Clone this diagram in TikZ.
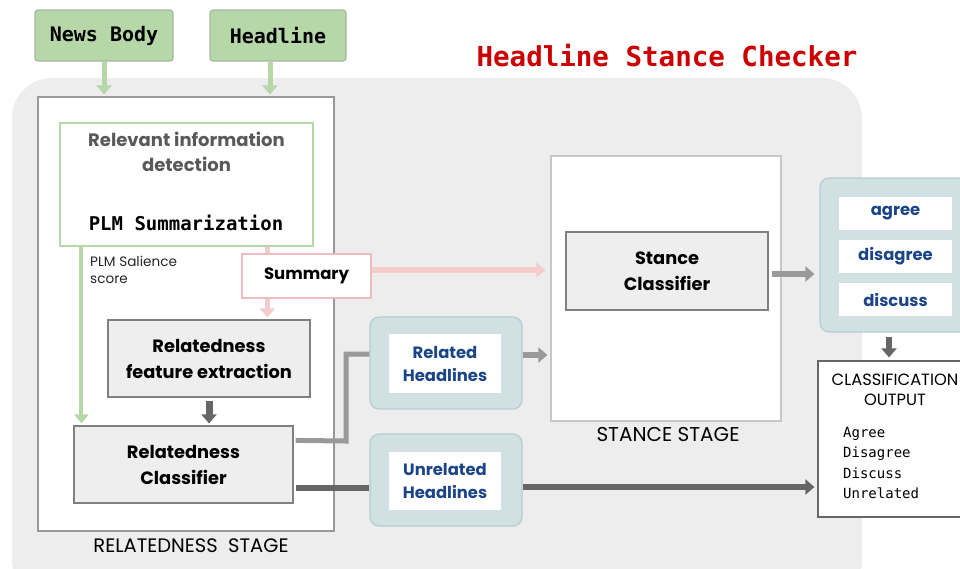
\documentclass[tikz,border=0pt]{standalone}
\usepackage{fontspec}
\setmainfont{Poppins}
\setsansfont{Poppins}
\setmonofont{DejaVu Sans Mono}
\usetikzlibrary{arrows.meta,calc}

\definecolor{bggrey}{HTML}{EDEDED}
\definecolor{leaf}{HTML}{B6D7A8}
\definecolor{leafedge}{HTML}{A6B8A0}
\definecolor{blush}{HTML}{F4CCCC}
\definecolor{blushedge}{HTML}{EBBDBD}
\definecolor{boxgrey}{HTML}{EEEEEE}
\definecolor{edgegrey}{HTML}{808080}
\definecolor{darkline}{HTML}{666666}
\definecolor{midline}{HTML}{999999}
\definecolor{ice}{HTML}{D0E0E3}
\definecolor{iceedge}{HTML}{B4CDD2}
\definecolor{navy}{HTML}{1C4587}
\definecolor{titlered}{HTML}{CC0000}
\definecolor{softtext}{HTML}{595959}

\tikzset{
  inputbox/.style={draw=leafedge, line width=1.2pt, fill=leaf, rounded corners=3pt,
    font=\fontsize{20}{24}\selectfont\ttfamily\bfseries, inner sep=0pt},
  stagebox/.style={draw=#1, line width=1.2pt, fill=white, inner sep=0pt},
  procbox/.style={draw=edgegrey, line width=1.2pt, fill=boxgrey, align=center,
    font=\fontsize{17.8}{26}\selectfont\bfseries, inner sep=0pt},
  groupbox/.style={draw=iceedge, line width=1.2pt, fill=ice, rounded corners=9pt, inner sep=0pt},
  labelbox/.style={fill=white, align=center, text=navy,
    font=\fontsize{16.4}{23}\selectfont\bfseries, inner sep=0pt},
  flow/.style={line width=#1, -{Triangle[length=9pt,width=15pt]}},
  flow/.default=5pt,
  bar/.style={line width=#1},
  bar/.default=5pt,
}

\begin{document}
\begin{tikzpicture}[x=1pt,y=-1pt]
\useasboundingbox (0,0) rectangle (960,568);
\clip (0,0) rectangle (960,568);

% overall checker panel
\fill[bggrey, rounded corners=40pt] (12,78) rectangle (862,600);

\node[font=\fontsize{27.5}{30}\selectfont\ttfamily\bfseries, text=titlered, anchor=base]
  (title) at (667,66) {Headline Stance Checker};

% inputs
\node[inputbox, minimum width=138pt, minimum height=51pt] (news) at (104,35.5) {News Body};
\node[inputbox, minimum width=136pt, minimum height=51pt] (head) at (278,35.5) {Headline};

% relatedness stage
\node[stagebox=edgegrey!80, minimum width=296pt, minimum height=434pt] (relstage) at (186,314) {};
\node[font=\fontsize{19.5}{22}\selectfont] (reltag) at (191,546) {RELATEDNESS\ \ STAGE};

\draw[leaf, flow] (news.south) -- ($(news.south |- relstage.north)+(0,-2)$);
\draw[leaf, flow] (head.south -| 270,0) -- ($(270,0 |- relstage.north)+(0,-2)$);

\node[stagebox=leaf, minimum width=253pt, minimum height=123pt] (relinfo) at (186.5,184.5) {};
\node[text=softtext, align=center, font=\fontsize{18}{25}\selectfont\bfseries]
  (relinfotxt) at (186.5,152) {Relevant information\\detection};
\node[font=\fontsize{19}{22}\selectfont\ttfamily\bfseries, anchor=base]
  (plm) at (186,230) {PLM Summarization};

\node[draw=blushedge, line width=1.2pt, fill=white, minimum width=129pt, minimum height=44pt,
  font=\fontsize{16.5}{20}\selectfont\bfseries, inner sep=0pt] (summary) at (306.5,276) {Summary};

\node[procbox, minimum width=202pt, minimum height=77pt] (feat) at (209,358.5)
  {Relatedness\\feature extraction};
\node[procbox, minimum width=219pt, minimum height=77pt] (relcls) at (183.5,464.5)
  {Relatedness\\Classifier};

% salience score path
\coordinate (salA) at ($(relinfo.south west)+(22,0)$);
\draw[leaf, line width=4pt, -{Triangle[length=9pt,width=14pt]}]
  (salA) -- ($(salA |- relcls.north)+(0,-2)$);
\node[font=\fontsize{13.6}{17}\selectfont, align=left, anchor=north west, inner sep=0pt,
  text=black!85] (saltxt) at (90,256) {PLM Salience\\score};

% summary path
\coordinate (sumA) at ($(relinfo.south west)+(208,0)$);
\draw[blush, bar=5pt] (sumA) -- (sumA |- summary.north);
\draw[blush, flow=5pt] (sumA |- summary.south) -- ($(sumA |- feat.north)+(0,-2)$);

\draw[darkline, flow=7pt] ($(feat.south)+(0,3)$) -- ($(feat.south |- relcls.north)+(0,-2)$);

% stance stage
\node[stagebox=black!22, minimum width=230pt, minimum height=265pt] (stancestage) at (666,288.5) {};
\node[font=\fontsize{20}{22}\selectfont] (stancetag) at (668,435) {STANCE STAGE};
\node[procbox, minimum width=202pt, minimum height=78pt] (stancecls) at (667,271)
  {Stance\\Classifier};

\draw[blush, flow=6pt] ($(summary.east)+(0,-6)$) -- ($(summary.east -| stancestage.west)+(-5,-6)$);

% headline groups
\node[groupbox, minimum width=152pt, minimum height=92pt] (relgrp) at (446,363) {};
\node[labelbox, minimum width=112pt, minimum height=59pt] (rellbl) at (445,363.5) {Related\\Headlines};
\node[groupbox, minimum width=152pt, minimum height=92pt] (unrgrp) at (446,480) {};
\node[labelbox, minimum width=112pt, minimum height=58pt] (unrlbl) at (445,481) {Unrelated\\Headlines};

\draw[midline, bar=5pt] ($(relcls.north east)+(2,15)$) -- (346,441) |- ($(relgrp.west)+(0,-9)$);
\draw[darkline, bar=6pt] ($(relcls.south east)+(2,-16)$) -- ($(relcls.south east -| unrgrp.west)+(0,-16)$);
\draw[midline, flow=6pt] ($(relgrp.east)+(0,-8)$) -- ($(relgrp.east -| stancestage.west)+(-3,-8)$);

% outputs
\node[groupbox, minimum width=170pt, minimum height=154pt] (outgrp) at (905,255) {};
\node[labelbox, minimum width=113pt, minimum height=33pt] (agree) at (895.5,213.5) {agree};
\node[labelbox, minimum width=113pt, minimum height=33pt] (disagree) at (895.5,256.5) {disagree};
\node[labelbox, minimum width=113pt, minimum height=33pt] (discuss) at (895.5,299.5) {discuss};

\draw[midline, flow=6pt] ($(stancecls.east)+(3,3)$) -- ($(stancecls.east -| outgrp.west)+(-5,3)$);

\node[draw=darkline, line width=1.2pt, fill=white, minimum width=162pt, minimum height=156pt,
  inner sep=0pt] (classout) at (899,439) {};
\node[font=\fontsize{16.3}{20}\selectfont, align=center] (classhdr) at (895,390)
  {CLASSIFICATION\\OUTPUT};
\node[font=\fontsize{14}{20.3}\selectfont\ttfamily, align=left, anchor=north west, inner sep=0pt]
  (classlist) at (843,427) {Agree\\Disagree\\Discuss\\Unrelated};

\draw[darkline, flow=6pt] (889,337) -- ($(889,0 |- classout.north)+(0,-3)$);
\draw[darkline, flow=6pt] ($(unrgrp.east)+(0,7)$) -- ($(unrgrp.east -| classout.west)+(-3,7)$);
\end{tikzpicture}
\end{document}
